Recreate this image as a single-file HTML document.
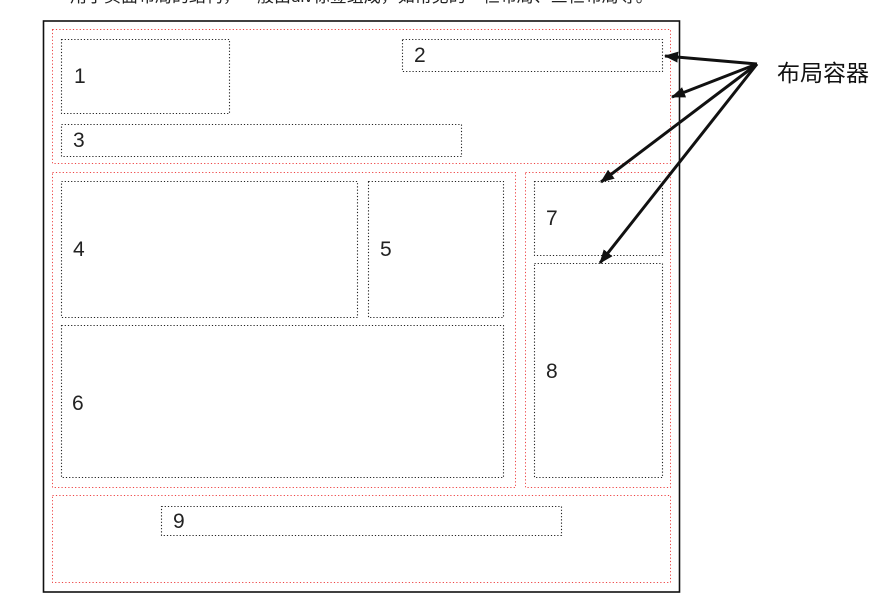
<!DOCTYPE html>
<html><head><meta charset="utf-8"><style>
body{margin:0;width:894px;height:603px;background:#fff;position:relative;overflow:hidden;font-family:"Liberation Sans","Noto Sans CJK SC",sans-serif}
.t{position:absolute;font-size:21px;color:#222}
</style></head><body>
<div style="position:absolute;left:70px;top:-18px;font-size:17px;color:#222;white-space:nowrap">用于页面布局的结构，一般由div标签组成，如常见的一栏布局、三栏布局等。</div>
<svg style="position:absolute;left:0;top:0" width="894" height="603">
<defs><marker id="a" markerWidth="14" markerHeight="11" refX="13" refY="5.5" orient="auto" markerUnits="userSpaceOnUse"><path d="M0,0L14,5.5L0,11z" fill="#111"/></marker></defs>
<rect x="43.5" y="21" width="636" height="571" fill="none" stroke="#111" stroke-width="1.6"/>
<g fill="none" stroke="#e44" stroke-width="1" stroke-dasharray="1.2,2.2">
<rect x="52.5" y="29.5" width="618" height="134"/>
<rect x="52.5" y="172.5" width="463" height="315"/>
<rect x="525.5" y="172.5" width="145" height="315"/>
<rect x="52.5" y="495.5" width="618" height="87"/>
</g>
<g fill="none" stroke="#222" stroke-width="1.1" stroke-dasharray="1.2,2">
<rect x="61.5" y="39.5" width="168" height="74"/>
<rect x="402.5" y="39.5" width="260" height="32"/>
<rect x="61.5" y="124.5" width="400" height="32"/>
<rect x="61.5" y="181.5" width="296" height="136"/>
<rect x="368.5" y="181.5" width="135" height="136"/>
<rect x="61.5" y="325.5" width="442" height="152"/>
<rect x="534.5" y="181.5" width="128" height="74"/>
<rect x="534.5" y="263.5" width="128" height="214"/>
<rect x="161.5" y="506.5" width="400" height="29"/>
</g>
<g stroke="#111" stroke-width="3" marker-end="url(#a)">
<line x1="757" y1="64" x2="665" y2="56"/>
<line x1="757" y1="64" x2="672" y2="97"/>
<line x1="757" y1="64" x2="601" y2="182"/>
<line x1="757" y1="64" x2="600" y2="263"/>
</g></svg>
<div class="t" style="left:74px;top:65px">1</div>
<div class="t" style="left:414px;top:44px">2</div>
<div class="t" style="left:73px;top:129px">3</div>
<div class="t" style="left:73px;top:238px">4</div>
<div class="t" style="left:380px;top:238px">5</div>
<div class="t" style="left:72px;top:392px">6</div>
<div class="t" style="left:546px;top:207px">7</div>
<div class="t" style="left:546px;top:360px">8</div>
<div class="t" style="left:173px;top:510px">9</div>
<div style="position:absolute;left:777px;top:54px;font-size:23px;color:#111">布局容器</div>
</body></html>
